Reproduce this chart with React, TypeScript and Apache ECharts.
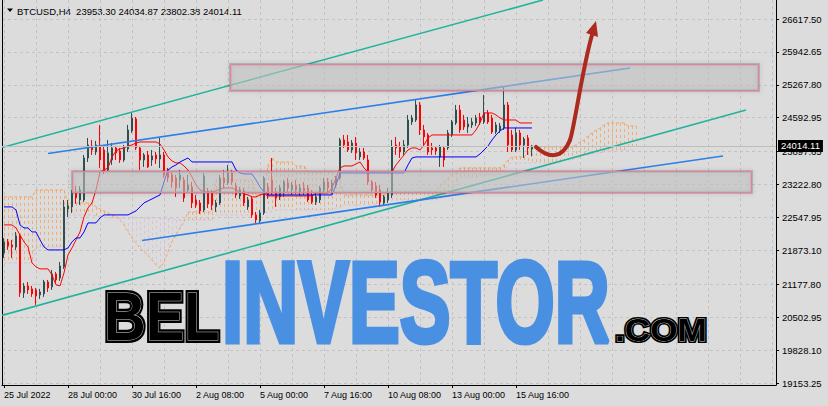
import React, { useEffect, useRef } from 'react';
import * as echarts from 'echarts';

// H4 bars, index 0 = 25 Jul 2022 08:00
const OPEN = [21820,22046,21985,21944,22169,21001,21144,21083,21062,20960,
 20980,21226,21124,21390,21308,21534,22723,22764,23071,22907,
 22907,23768,24014,23891,23994,23932,23522,23727,23973,23912,
 23727,23953,24322,24568,23973,23727,23830,23727,23830,23748,
 23830,23481,23420,23358,23317,23317,23112,23174,22907,22846,
 22702,23092,23051,22764,22846,23358,23256,23461,23194,22989,
 23092,22764,22928,22600,22477,22641,23174,23317,23071,22969,
 23071,23256,23112,23194,23071,23153,23153,23010,22866,22907,
 23112,23276,23112,23215,23358,24137,24096,23932,24076,23789,
 23891,23727,23276,23194,23112,22846,22907,23010,24035,23994,
 23891,24035,24506,24547,24855,24342,24240,23973,23973,23789,
 23973,23973,24240,24486,24752,24547,24404,24445,24486,24609,
 24506,24691,24588,24301,24342,24383,24855,24240,23932,24281,
 24035,24178,23953.30];
const CLOSE = [22046,21964,21944,22169,21001,21144,21062,20980,20939,21021,
 21226,21103,21390,21267,21554,22764,22784,23071,22948,23112,
 23768,24035,23932,24035,23727,23502,23871,23973,23871,23727,
 23973,24342,24588,23973,23727,23830,23584,23809,23748,23830,
 23420,23358,23276,23153,23420,22948,23215,22846,22805,22682,
 23399,22825,22805,22846,23358,23256,23461,23276,23010,23112,
 22846,22907,22600,22497,22641,23358,23010,23051,22948,23153,
 23276,23153,23215,23112,23153,23092,22907,22866,22969,23153,
 23276,23153,23256,23358,24137,24035,23932,24076,23871,23891,
 23768,23276,23112,23010,22866,22969,23071,23994,23973,23891,
 24035,24547,24588,24855,24342,24199,23891,23932,23912,23994,
 23727,24281,24506,24752,24342,24404,24465,24506,24588,24506,
 24691,24506,24301,24445,24424,24855,24035,23932,24281,24035,
 24158,23973,24014.11];
const LOW = [21718,21882,21718,21882,20919,20898,20980,20919,20755,20878,
 20919,21021,21062,21206,21247,21493,22559,22641,22825,22805,
 22866,23686,23830,23830,23563,23440,23481,23625,23727,23666,
 23686,23891,24281,23932,23522,23584,23563,23604,23645,23563,
 23358,23276,23153,22969,23153,22866,23071,22743,22743,22620,
 22661,22743,22702,22661,22805,23153,23215,23215,22948,22928,
 22784,22702,22538,22415,22415,22600,22928,23010,22764,22907,
 22969,23071,23010,23030,22989,23010,22866,22825,22805,22846,
 23051,23071,23030,23153,23317,23973,23891,23871,23727,23727,
 23727,23215,23071,22948,22764,22805,22846,22948,23830,23768,
 23809,23973,24445,24506,24240,24035,23830,23830,23830,23584,
 23584,23932,24199,24445,24281,24342,24281,24383,24424,24445,
 24465,24465,24260,24260,24281,24342,23891,23891,23891,23932,
 23768,23830,23802.38];
const HIGH = [22128,22108,22087,22251,22210,21206,21226,21144,21103,21083,
 21267,21267,21472,21431,21636,22907,22907,23112,23194,23194,
 23830,24178,24137,24117,24445,24035,24137,24076,24014,23973,
 24035,24445,24691,24609,24014,23871,23912,23932,23891,24178,
 23891,23563,23481,23420,23522,23379,23420,23276,23010,22907,
 23461,23153,23112,22907,23420,23522,23625,23522,23256,23174,
 23153,22969,22989,22661,22702,23399,23256,23768,23153,23215,
 23317,23358,23276,23317,23235,23276,23215,23112,23051,23194,
 23358,23358,23317,23399,24178,24240,24240,24137,24199,23973,
 23973,23830,23317,23276,23215,23010,23153,24137,24199,24096,
 24137,24650,24650,24957,24916,24445,24281,24076,23994,24035,
 24014,24342,24547,24855,24855,24650,24609,24588,24650,24691,
 25060,24752,24650,24506,24486,25224,24916,24342,24383,24342,
 24199,24240,24034.87];

// Ichimoku
const TENKAN = [22395,22395,22395,22333,22190,22046,21944,21616,21534,21493,
 21493,21493,21370,21165,21144,21411,21780,21923,22087,22251,
 22559,22743,22846,23112,23481,23522,23563,23789,23912,23953,
 23973,24014,24035,24076,24096,24096,24096,24096,24096,24055,
 23932,23789,23707,23666,23666,23604,23522,23379,23215,23112,
 23071,23071,23071,23092,23133,23153,23153,23153,23112,23071,
 23030,23010,22969,22969,23010,23030,22989,22989,22989,22989,
 22989,22989,22989,22989,22989,22989,22989,22989,23051,23051,
 23051,23051,23153,23358,23563,23604,23604,23604,23645,23686,
 23563,23481,23481,23481,23481,23481,23481,23481,23625,23727,
 23830,23932,23973,23973,23932,24035,24178,24240,24240,24240,
 24240,24240,24240,24240,24240,24240,24240,24240,24342,24486,
 24691,24691,24691,24650,24588,24547,24547,24547,24547,24486,
 24486,24486,24486];
const KIJUN = [22764,22764,22764,22702,22395,22333,22333,22251,22251,22087,
 21944,21882,21882,21882,21882,21882,21923,22046,22128,22128,
 22251,22436,22436,22436,22538,22600,22600,22600,22600,22600,
 22600,22600,22641,22682,22764,22846,22887,22928,22969,23010,
 23276,23522,23584,23625,23686,23727,23768,23686,23686,23686,
 23686,23686,23686,23686,23686,23686,23686,23686,23522,23461,
 23440,23440,23440,23317,23174,23071,23010,23010,23010,23010,
 23010,23010,23010,23010,23010,23010,23010,23010,23010,23010,
 23010,23010,23010,23215,23461,23461,23461,23461,23461,23461,
 23461,23461,23461,23461,23461,23461,23461,23461,23461,23461,
 23461,23625,23768,23789,23789,23789,23789,23789,23789,23789,
 23789,23789,23789,23789,23789,23789,23789,23789,23789,23850,
 23932,24014,24137,24240,24322,24383,24383,24383,24383,24383,
 24383,24383,24383];
const SPAN_A = [22969,22969,22969,22969,22969,22969,22969,22969,
 23112,23112,23112,23112,23112,23112,23112,23112,
 22846,22846,22846,22846,22846,22846,22846,
 22764,22723,22682,22641,22600,22559,22497,22395,22251,22128,22026,21923,21841,21759,21677,21575,21513,21636,21841,22046,22190,22333,22456,
 22661,22661,22661,22661,22661,22661,22661,
 23317,23317,23317,23317,23317,23317,23317,23317,23317,23317,
 23010,23010,23010,
 23625,23768,
 23686,23686,23686,23686,23686,
 23604,23604,23604,
 23481,23481,23481,23481,23481,23481,23481,
 23317,23317,
 23010,23010,23010,23010,23010,23010,23010,23010,23010,23010,23010,
 23071,23071,23071,23071,23071,23071,23071,23071,23071,23071,23071,23071,23071,
 23215,23276,23358,23440,23481,
 23563,23563,23563,23563,23563,23563,23563,23563,23563,23563,23563,
 23625,23727,
 23789,23789,23789,23789,
 23891,
 23994,23994,23994,23994,23994,23994,23994,23994,23994,23994,23994,
 24035,24096,24137,24219,24281,24342,24383,24445,
 24486,24486,24486,24486,24486,
 24424,24424,24424];
const SPAN_B = [21616,21616,21616,21616,21616,21616,21616,21616,
 21944,21944,21944,21944,21944,21944,21944,21944,
 22600,22600,22600,22600,22600,22600,22600,
 22579,22559,22559,
 22538,22538,22538,22538,22538,22538,22538,22538,22538,22538,22538,22538,22538,22538,
 22518,22518,22518,
 22497,22497,22497,22497,22497,22497,22497,22497,22497,22497,
 22600,22600,22600,22600,22600,22600,22600,22600,22600,22600,
 22641,22641,22641,
 22661,22682,
 22702,22702,22702,22702,22702,22702,22702,22702,22702,22702,22702,22702,22702,22702,22702,
 22743,22743,
 22805,22805,22805,22805,22805,22805,22805,22805,22805,22805,22805,
 22907,22907,22907,22907,22907,22907,22907,22907,22907,22907,22907,22907,22907,
 22948,22948,22989,23112,23215,
 23358,23358,23358,23358,23358,
 23420,23420,23420,23420,23420,23420,
 23522,23625,
 23666,23666,23666,23666,23666,23666,23666,23666,23666,23666,23666,23666,23666,
 23727,23727,23727,
 23768,23789,23830,23830,23850,23871,23871,23891,
 23932,23932,23932,23932,23932,23932,23932,23932];

// Axes
const PRICE_TICKS = [19153.25, 19828.10, 20502.95, 21177.80, 21873.10, 22547.95, 23222.80, 23897.65, 24592.95, 25267.80, 25942.65, 26617.50];
const TIME_TICK_INDEX = [0, 16, 32, 48, 64, 80, 96, 112, 128];
const TIME_TICK_LABELS = ['25 Jul 2022', '28 Jul 00:00', '30 Jul 16:00', '2 Aug 08:00', '5 Aug 00:00', '7 Aug 16:00', '10 Aug 08:00', '13 Aug 00:00', '15 Aug 16:00'];
const GRID_STEPS = [0,8,16,24,32,40,48,56,64,72,80,88,96,104,112,120,128,136,144,152,160,168,176,184,192];
const X_MIN = -0.5;
const X_MAX = 193;
const Y_MIN = 19112.24;
const Y_MAX = 27007.12;

// Drawing objects (bar index, price)
const TREND_LINES = [
  [-0.5, 23983, 134.75, 27007],
  [-0.5, 20539, 185.5, 24752],
  [11, 23860, 156.5, 25613],
  [34.5, 22077, 179.75, 23809],
];
const TREND_COLORS = ['#22b39c', '#22b39c', '#2d7fe8', '#2d7fe8'];
const ZONES = [
  [56.5, 25695, 188.5, 25162],
  [17, 23501, 186.75, 23071],
];
const ARROW_CURVE = [[133, 23993], [136, 23768], [139.5, 23727], [141.5, 24137], [142.5, 24342], [144.5, 25572], [147, 26290]];
const ARROW_HEAD = [[148, 26577], [145.5, 26330], [148.5, 26248]];

const FONT = '"Liberation Sans", Arial, sans-serif';
const GRID_COLOR = '#c3c3c3';
const ARROW_COLOR = '#ad2a1f';

export default function App() {
  const ref = useRef<HTMLDivElement>(null);
  useEffect(() => {
    if (!ref.current) return;
    const chart = echarts.init(ref.current, null, { renderer: 'svg' });
    const n = CLOSE.length;
    const candles = OPEN.map((o, i) => [i, o, CLOSE[i], LOW[i], HIGH[i]]);
    const last = CLOSE[n - 1];
    const header = 'BTCUSD,H4  ' + OPEN[n - 1].toFixed(2) + ' ' + HIGH[n - 1].toFixed(2) + ' ' + LOW[n - 1].toFixed(2) + ' ' + CLOSE[n - 1].toFixed(2);

    const wmText = (text: string, x: number, y: number, size: number, sx: number, fill: string, stroke: string, lw: number, extra: any = {}) => ({
      type: 'text', x, y, scaleX: sx, z: 100, silent: true,
      style: Object.assign({
        text, font: 'bold ' + size + 'px ' + FONT, fill, stroke, lineWidth: lw, lineJoin: 'round',
        align: 'left', verticalAlign: 'middle', textAlign: 'left', textVerticalAlign: 'middle',
      }, extra),
    });

    const option: any = {
      animation: false,
      backgroundColor: '#dcdcdc',
      grid: { left: 2, right: 52, top: 0, bottom: 21, containLabel: false, outerBoundsMode: 'none' },
      xAxis: [
        {
          type: 'value', min: X_MIN, max: X_MAX, position: 'bottom',
          axisLine: { show: true, onZero: false, lineStyle: { color: '#000', width: 1 } },
          axisTick: { show: false, customValues: GRID_STEPS },
          splitLine: { show: true, lineStyle: { color: GRID_COLOR, type: [3, 3], width: 1 } },
          axisLabel: {
            customValues: TIME_TICK_INDEX,
            formatter: (v: number) => { const k = TIME_TICK_INDEX.indexOf(v); return k >= 0 ? TIME_TICK_LABELS[k] : ''; },
            align: 'left', margin: 5, fontSize: 9, color: '#000', fontFamily: FONT,
          },
        },
        {
          type: 'value', min: X_MIN, max: X_MAX, position: 'bottom',
          axisLine: { show: false },
          axisLabel: { show: false },
          splitLine: { show: false },
          axisTick: { show: true, customValues: TIME_TICK_INDEX, length: 3, lineStyle: { color: '#000' } },
        },
      ],
      yAxis: [
        {
          type: 'value', position: 'right', min: Y_MIN, max: Y_MAX,
          axisLine: { show: true, onZero: false, lineStyle: { color: '#000' } },
          axisTick: { show: true, customValues: PRICE_TICKS, length: 3, lineStyle: { color: '#000' } },
          axisLabel: { customValues: PRICE_TICKS, formatter: (v: number) => v.toFixed(2), margin: 6, fontSize: 9.5, color: '#000', fontFamily: FONT },
          splitLine: { show: true, lineStyle: { color: GRID_COLOR, type: [3, 3], width: 1 } },
        },
        {
          type: 'value', position: 'left', min: Y_MIN, max: Y_MAX,
          axisLine: { show: true, onZero: false, lineStyle: { color: '#000' } },
          axisTick: { show: false }, axisLabel: { show: false }, splitLine: { show: false },
        },
      ],
      series: [
        {
          type: 'custom', name: 'kumo', z: 1, silent: true, clip: true,
          data: SPAN_A.map((a, j) => [j, a, SPAN_B[j]]),
          encode: { x: 0, y: [1, 2] },
          renderItem: (params: any, api: any) => {
            const j = api.value(0), a = api.value(1), b = api.value(2);
            const p1 = api.coord([j, a]);
            const p2 = api.coord([j, b]);
            const x = Math.round(p1[0]) + 0.5;
            return {
              type: 'line',
              shape: { x1: x, y1: p1[1], x2: x, y2: p2[1] },
              style: { stroke: a >= b ? '#f4a460' : '#d8bfd8', lineWidth: 1, lineDash: [3, 3], opacity: 0.85 },
            };
          },
        },
        {
          type: 'line', name: 'Senkou A', z: 1, silent: true, symbol: 'none', showSymbol: false,
          data: SPAN_A.map((v, j) => [j, v]),
          lineStyle: { color: '#f4a460', width: 1, type: [3, 2] },
        },
        {
          type: 'line', name: 'Senkou B', z: 1, silent: true, symbol: 'none', showSymbol: false,
          data: SPAN_B.map((v, j) => [j, v]),
          lineStyle: { color: '#d8bfd8', width: 1, type: [3, 2] },
        },
        {
          type: 'candlestick', name: 'BTCUSD', z: 2, silent: true, barWidth: 2,
          data: candles,
          itemStyle: { color: '#2f4f4f', color0: '#ff0000', borderColor: '#2f4f4f', borderColor0: '#ff0000', borderWidth: 1 },
          markLine: {
            silent: true, symbol: ['none', 'none'], animation: false,
            data: [{ yAxis: last }],
            lineStyle: { color: '#bdbdbd', width: 1, type: 'solid' },
            label: {
              show: true, position: 'end', distance: 2, formatter: last.toFixed(2),
              color: '#fff', backgroundColor: '#000', padding: [1, 3, 1, 3], fontSize: 9.5, lineHeight: 10, fontFamily: FONT,
            },
          },
        },
        {
          type: 'line', name: 'Tenkan', z: 3, silent: true, symbol: 'none', showSymbol: false,
          data: TENKAN.map((v, i) => [i, v]),
          lineStyle: { color: '#ff0000', width: 1 },
        },
        {
          type: 'line', name: 'Kijun', z: 3, silent: true, symbol: 'none', showSymbol: false,
          data: KIJUN.map((v, i) => [i, v]),
          lineStyle: { color: '#0000ff', width: 1 },
        },
        {
          type: 'custom', name: 'trend', z: 4, silent: true, clip: true,
          data: TREND_LINES.map((t) => [t[0], t[1], t[2], t[3]]),
          encode: { x: [0, 2], y: [1, 3] },
          renderItem: (params: any, api: any) => {
            const a = api.coord([api.value(0), api.value(1)]);
            const b = api.coord([api.value(2), api.value(3)]);
            return {
              type: 'line',
              shape: { x1: a[0], y1: a[1], x2: b[0], y2: b[1] },
              style: { stroke: TREND_COLORS[params.dataIndex], lineWidth: 1.6 },
            };
          },
        },
        {
          type: 'custom', name: 'zones', z: 5, silent: true, clip: false,
          data: ZONES.map((r) => [r[0], r[1], r[2], r[3]]),
          encode: { x: [0, 2], y: [1, 3] },
          renderItem: (params: any, api: any) => {
            const a = api.coord([api.value(0), api.value(1)]);
            const b = api.coord([api.value(2), api.value(3)]);
            const x = Math.round(Math.min(a[0], b[0])) + 0.5;
            const y = Math.round(Math.min(a[1], b[1])) + 0.5;
            const w = Math.round(Math.abs(b[0] - a[0]));
            const h = Math.round(Math.abs(b[1] - a[1]));
            return {
              type: 'group',
              children: [
                { type: 'rect', shape: { x, y, width: w, height: h }, style: { fill: 'none', stroke: 'rgba(110,110,110,0.35)', lineWidth: 3, shadowBlur: 5, shadowColor: 'rgba(0,0,0,0.35)' } },
                { type: 'rect', shape: { x, y, width: w, height: h }, style: { fill: 'rgba(192,192,192,0.6)', stroke: '#e7809f', lineWidth: 1 } },
              ],
            };
          },
        },
        {
          type: 'custom', name: 'arrow', z: 6, silent: true, clip: false,
          data: [[ARROW_CURVE[0][0], ARROW_CURVE[0][1]]],
          encode: { x: 0, y: 1 },
          renderItem: (params: any, api: any) => {
            const c = ARROW_CURVE.map((p) => api.coord(p));
            const h = ARROW_HEAD.map((p) => api.coord(p));
            return {
              type: 'group',
              children: [
                { type: 'bezierCurve', shape: { x1: c[0][0], y1: c[0][1], cpx1: c[1][0], cpy1: c[1][1], cpx2: c[2][0], cpy2: c[2][1], x2: c[3][0], y2: c[3][1] }, style: { stroke: ARROW_COLOR, lineWidth: 4, fill: 'none', lineCap: 'round' } },
                { type: 'bezierCurve', shape: { x1: c[3][0], y1: c[3][1], cpx1: c[4][0], cpy1: c[4][1], cpx2: c[5][0], cpy2: c[5][1], x2: c[6][0], y2: c[6][1] }, style: { stroke: ARROW_COLOR, lineWidth: 4, fill: 'none', lineCap: 'round' } },
                { type: 'polygon', shape: { points: h }, style: { fill: ARROW_COLOR } },
              ],
            };
          },
        },
      ],
      graphic: {
        elements: [
          { type: 'polygon', silent: true, shape: { points: [[7, 8.5], [13, 8.5], [10, 12]] }, style: { fill: '#000' } },
          { type: 'text', x: 17, y: 11, silent: true, style: { text: header, font: '9.5px ' + FONT, fill: '#000', align: 'left', verticalAlign: 'middle', textAlign: 'left', textVerticalAlign: 'middle' } },
          wmText('BEL', 104, 316, 68, 0.85, '#000', '#000', 6),
          wmText('BEL', 104, 316, 68, 0.85, '#000', '#cfcfcf', 1),
          wmText('INVESTOR', 222, 302, 115, 0.662, '#4a90e2', '#4a90e2', 5, { shadowBlur: 4, shadowColor: 'rgba(0,0,0,0.35)', shadowOffsetX: 1, shadowOffsetY: 2 }),
          wmText('.COM', 615, 330, 32, 1.1, '#000', '#000', 4),
          wmText('.COM', 615, 330, 32, 1.1, '#000', '#cfcfcf', 0.8),
        ],
      },
    };
    chart.setOption(option);
    return () => chart.dispose();
  }, []);
  return <div ref={ref} style={{ position: 'absolute', left: 0, top: 0, width: 828, height: 406, background: '#dcdcdc' }} />;
}
